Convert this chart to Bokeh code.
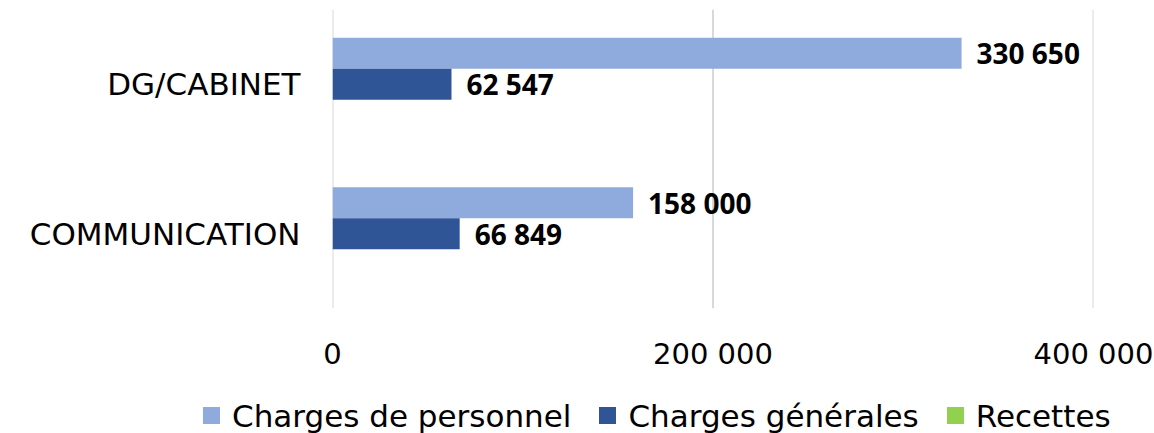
from bokeh.plotting import figure
from bokeh.layouts import column
from bokeh.models import FactorRange, Range1d, FixedTicker, ColumnDataSource, Span, Div
from bokeh.transform import dodge
from bokeh.core.properties import value
from bokeh.embed import file_html
from bokeh.resources import INLINE

categories = ["COMMUNICATION", "DG/CABINET"]
personnel = [158000, 330650]
generales = [66849, 62547]
recettes = [0, 0]
series_names = ["Charges de personnel", "Charges générales", "Recettes"]
colors = ["#8FAADC", "#2F5597", "#92D050"]
ticks = [0, 200000, 400000]
tick_labels = ["0", "200 000", "400 000"]

def fmt(v):
    return f"{v:,}".replace(",", " ")

src = ColumnDataSource(dict(
    cat=categories, personnel=personnel, generales=generales, recettes=recettes,
    lp=[fmt(v) for v in personnel], lg=[fmt(v) for v in generales],
))

p = figure(frame_width=761, frame_height=299, output_backend="svg", toolbar_location=None,
           y_range=FactorRange(factors=categories, range_padding=0),
           x_range=Range1d(0, 400000),
           min_border_left=332, min_border_right=61, min_border_top=9, min_border_bottom=70)
p.outline_line_color = None

for t in ticks:
    p.add_layout(Span(location=t, dimension="height", line_color="#D9D9D9", line_width=2, level="underlay"))

bh = 0.2075
series_cols = ["personnel", "generales", "recettes"]
offsets = [bh, 0, -bh]
for col, off, c, n in zip(series_cols, offsets, colors, series_names):
    p.hbar(y=dodge("cat", off, range=p.y_range), right=col, left=0, height=bh,
           fill_color=c, line_color=None, source=src, name=n)

lab_font = value("Open Sans")
p.text(x="personnel", y=dodge("cat", bh, range=p.y_range), text="lp", source=src,
       x_offset=15, text_baseline="middle", text_align="left", text_font=lab_font,
       text_font_style="bold", text_font_size="28px", text_color="#000000")
p.text(x="generales", y=dodge("cat", 0, range=p.y_range), text="lg", source=src,
       x_offset=15, text_baseline="middle", text_align="left", text_font=lab_font,
       text_font_style="bold", text_font_size="28px", text_color="#000000")

axis_font = "DejaVu Sans"
p.xaxis.ticker = FixedTicker(ticks=ticks)
p.xaxis.major_label_overrides = {t: l for t, l in zip(ticks, tick_labels)}
p.xaxis.axis_line_color = None
p.xaxis.major_tick_line_color = None
p.xaxis.minor_tick_line_color = None
p.xaxis.major_label_standoff = 22
p.xaxis.major_label_text_font = axis_font
p.xaxis.major_label_text_font_size = "29px"
p.xaxis.major_label_text_color = "#000000"

p.yaxis.axis_line_color = None
p.yaxis.major_tick_line_color = None
p.yaxis.major_label_standoff = 26
p.yaxis.major_label_text_font = axis_font
p.yaxis.major_label_text_font_size = "31px"
p.yaxis.major_label_text_color = "#000000"

p.grid.grid_line_color = None

# Legend row under the chart
items_html = "".join(
    f'<span style="display:inline-flex;align-items:center;margin-right:{28 if i < len(series_names) - 1 else 0}px;">'
    f'<span style="display:inline-block;width:17px;height:17px;background:{c};margin-right:12px;"></span>'
    f'<span>{n}</span></span>'
    for i, (n, c) in enumerate(zip(series_names, colors))
)
legend_div = Div(
    text=f'<div style="padding-left:203px;padding-top:20px;font-family:\'DejaVu Sans\';'
         f'font-size:31px;line-height:30px;color:#000;white-space:nowrap;">{items_html}</div>',
    width=1154, height=55, margin=0,
)

layout = column(p, legend_div, spacing=0)
open("out.html", "w").write(file_html(layout, INLINE))
